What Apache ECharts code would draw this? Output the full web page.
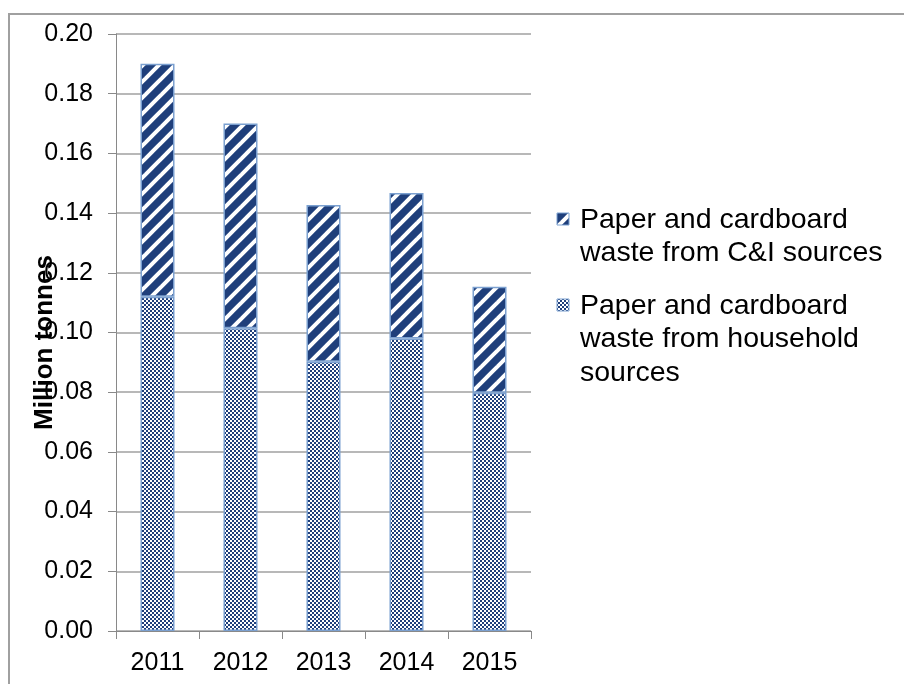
<!DOCTYPE html>
<html><head><meta charset="utf-8">
<script src="https://cdn.jsdelivr.net/npm/echarts@6/dist/echarts.min.js"></script>
<style>html,body{margin:0;padding:0;background:#fff}#c{width:904px;height:684px}</style>
</head><body><div id="c"></div>
<script>
const categories = ['2011','2012','2013','2014','2015'];
const household = [0.112, 0.1014, 0.0902, 0.098, 0.0798];
const ci = [0.078, 0.0686, 0.0525, 0.0487, 0.0355];
const yTicks = [0, 0.02, 0.04, 0.06, 0.08, 0.10, 0.12, 0.14, 0.16, 0.18, 0.20];
const seriesNames = ['Paper and cardboard waste from C&I sources', 'Paper and cardboard waste from household sources'];
const legendLines = [['Paper and cardboard', 'waste from C&I sources'], ['Paper and cardboard', 'waste from household', 'sources']];

const DARK = '#1F3F7B';
function stripeTile() {
  const s = 16, c = document.createElement('canvas'); c.width = s; c.height = s;
  const g = c.getContext('2d');
  g.fillStyle = DARK; g.fillRect(0, 0, s, s);
  g.strokeStyle = '#fff'; g.lineWidth = 4;
  [[0, s, s, 0], [-s, s, s, -s], [0, 2 * s, 2 * s, 0]].forEach(l => {
    g.beginPath(); g.moveTo(l[0], l[1]); g.lineTo(l[2], l[3]); g.stroke();
  });
  return c;
}
function dotTile() {
  const c = document.createElement('canvas'); c.width = 4; c.height = 4;
  const g = c.getContext('2d');
  g.fillStyle = '#fff'; g.fillRect(0, 0, 4, 4);
  g.fillStyle = DARK; g.fillRect(0, 0, 2, 2); g.fillRect(2, 2, 2, 2);
  return c;
}
const stripe = { image: stripeTile(), repeat: 'repeat' };
const dots = { image: dotTile(), repeat: 'repeat' };

const chart = echarts.init(document.getElementById('c'));
const FONT = 'Liberation Sans, Arial, sans-serif';

function legendGraphic(top, fill, lines) {
  const els = [{ type: 'rect', shape: { x: 557, y: top - 6, width: 12, height: 12 },
    style: { fill: fill, stroke: '#7BA0D0', lineWidth: 1 } }];
  lines.forEach((t, i) => els.push({ type: 'text', x: 580, y: top + 1 + i * 33.5,
    style: { text: t, fill: '#000', font: '28.5px ' + FONT, textVerticalAlign: 'middle' } }));
  return els;
}

chart.setOption({
  animation: false,
  grid: { left: 116, top: 34, right: 373, bottom: 53, containLabel: false },
  xAxis: {
    type: 'category', data: categories,
    axisLine: { lineStyle: { color: '#898989', width: 1 } },
    axisTick: { show: true, length: 8, lineStyle: { color: '#898989' } },
    axisLabel: { color: '#000', fontSize: 25, fontFamily: FONT, margin: 20 }
  },
  yAxis: {
    type: 'value', min: 0, max: 0.2, interval: 0.02,
    name: 'Million tonnes', nameLocation: 'middle', nameGap: 58, nameRotate: 90,
    nameMoveOverlap: false,
    nameTextStyle: { color: '#000', fontSize: 26, fontWeight: 'bold', fontFamily: FONT, padding: [0, 20, 0, 0] },
    axisLine: { show: true, lineStyle: { color: '#898989', width: 1 } },
    axisTick: { show: true, length: 8, lineStyle: { color: '#898989' } },
    splitLine: { lineStyle: { color: '#A0A0A0', width: 1.5 } },
    axisLabel: { color: '#000', fontSize: 25, fontFamily: FONT, margin: 23,
      formatter: v => v.toFixed(2) }
  },
  series: [
    { name: seriesNames[1], type: 'bar', stack: 't', data: household, barWidth: '41%',
      itemStyle: { color: dots, borderColor: '#7BA0D0', borderWidth: 1.5 } },
    { name: seriesNames[0], type: 'bar', stack: 't', data: ci, barWidth: '41%',
      itemStyle: { color: stripe, borderColor: '#7BA0D0', borderWidth: 1.5 } }
  ],
  graphic: [
    { type: 'rect', shape: { x: 9, y: 14, width: 1000, height: 1000 }, silent: true,
      style: { fill: 'none', stroke: '#A0A0A0', lineWidth: 2 } },
    ...legendGraphic(219, stripe, legendLines[0]),
    ...legendGraphic(305, dots, legendLines[1])
  ]
});
</script></body></html>
